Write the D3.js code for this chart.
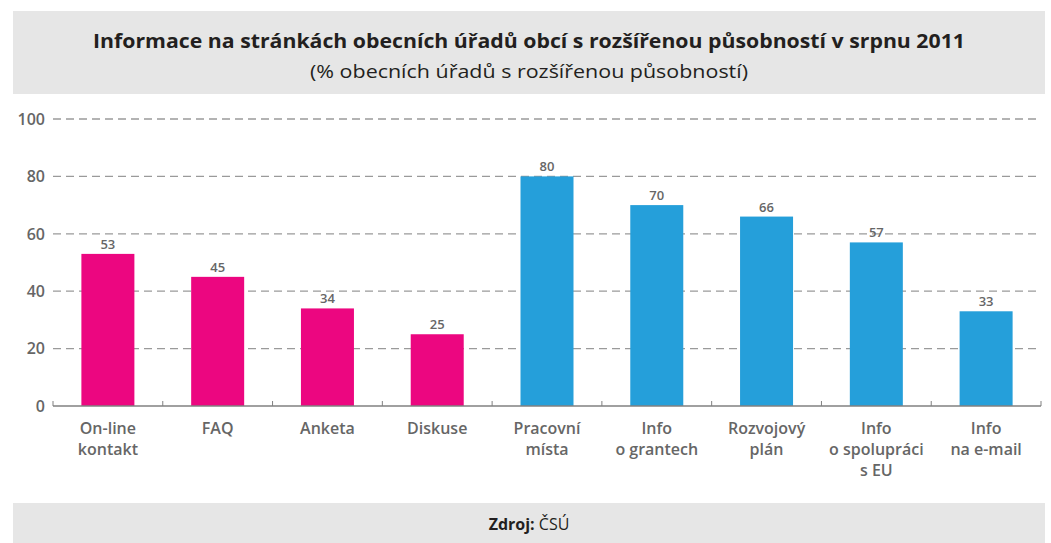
<!DOCTYPE html>
<html>
<head>
    <meta charset="utf-8">
    <title>Informace na stránkách obecních úřadů</title>
    <script src="https://d3js.org/d3.v7.min.js"></script>
    <style>
        body { margin: 0; background: #fff; }
        svg text { font-family: "Open Sans", "Noto Sans", sans-serif; }
    </style>
</head>
<body>
    <svg width="1051" height="543"></svg>
    <script>
        // data
        var categories = [
            ["On-line", "kontakt"], ["FAQ"], ["Anketa"], ["Diskuse"],
            ["Pracovní", "místa"], ["Info", "o grantech"], ["Rozvojový", "plán"],
            ["Info", "o spolupráci", "s EU"], ["Info", "na e-mail"]
        ];
        var values = [53, 45, 34, 25, 80, 70, 66, 57, 33];
        var groups = ["a", "a", "a", "a", "b", "b", "b", "b", "b"];
        var yTicks = [0, 20, 40, 60, 80, 100];

        var colors = { a: "#ec0680", b: "#259fda" };

        var svg = d3.select("svg");
        var plotLeft = 53, plotRight = 1041, plotTop = 119, plotBottom = 406;

        // title box
        svg.append("rect").attr("x", 13).attr("y", 11).attr("width", 1032).attr("height", 83).attr("fill", "#e6e6e6");
        svg.append("text").attr("x", 529).attr("y", 48).attr("text-anchor", "middle")
            .attr("font-size", 20).attr("font-weight", "bold").attr("fill", "#231f20")
            .attr("textLength", 872).attr("lengthAdjust", "spacingAndGlyphs")
            .text("Informace na stránkách obecních úřadů obcí s rozšířenou působností v srpnu 2011");
        svg.append("text").attr("x", 529).attr("y", 78).attr("text-anchor", "middle")
            .attr("font-size", 19).attr("fill", "#231f20")
            .attr("textLength", 438).attr("lengthAdjust", "spacingAndGlyphs")
            .text("(% obecních úřadů s rozšířenou působností)");

        // footer box
        svg.append("rect").attr("x", 13).attr("y", 503).attr("width", 1032).attr("height", 40).attr("fill", "#e6e6e6");
        var foot = svg.append("text").attr("x", 529).attr("y", 530).attr("text-anchor", "middle")
            .attr("font-size", 16).attr("fill", "#231f20");
        foot.append("tspan").attr("font-weight", "bold").text("Zdroj: ");
        foot.append("tspan").text("ČSÚ");

        var x = d3.scaleBand().domain(d3.range(values.length)).range([plotLeft, plotRight]);
        var y = d3.scaleLinear().domain([0, 100]).range([plotBottom, plotTop]);

        // gridlines
        svg.append("g").selectAll("line").data(yTicks.filter(function(d) { return d > 0; })).enter()
            .append("line")
            .attr("x1", plotLeft).attr("x2", plotRight)
            .attr("y1", function(d) { return y(d); }).attr("y2", function(d) { return y(d); })
            .attr("stroke", "#9a9a9a").attr("stroke-width", 1.3).attr("stroke-dasharray", "8,5");

        // y labels
        svg.append("g").selectAll("text").data(yTicks).enter()
            .append("text")
            .attr("x", 45).attr("y", function(d) { return y(d); }).attr("dy", "0.36em")
            .attr("text-anchor", "end").attr("font-size", 16).attr("font-weight", 600).attr("fill", "#666")
            .text(function(d) { return d; });

        var bw = 53;
        // bars
        svg.append("g").selectAll("rect").data(values).enter()
            .append("rect")
            .attr("x", function(d, i) { return x(i) + x.bandwidth() / 2 - bw / 2; })
            .attr("y", function(d) { return y(d); })
            .attr("width", bw)
            .attr("height", function(d) { return y(0) - y(d); })
            .attr("fill", function(d, i) { return colors[groups[i]]; });

        // value labels
        svg.append("g").selectAll("text").data(values).enter()
            .append("text")
            .attr("x", function(d, i) { return x(i) + x.bandwidth() / 2; })
            .attr("y", function(d) { return y(d) - 5; })
            .attr("text-anchor", "middle").attr("font-size", 13).attr("font-weight", 600).attr("fill", "#666")
            .text(function(d) { return d; });

        // x axis
        var axis = svg.append("g").attr("transform", "translate(0," + plotBottom + ")");
        axis.append("line").attr("x1", plotLeft).attr("x2", plotRight).attr("stroke", "#808080").attr("stroke-width", 1.3);
        axis.selectAll("line.tick").data(d3.range(values.length + 1)).enter()
            .append("line").attr("class", "tick")
            .attr("x1", function(i) { return plotLeft + i * x.bandwidth(); })
            .attr("x2", function(i) { return plotLeft + i * x.bandwidth(); })
            .attr("y1", -5).attr("y2", 0)
            .attr("stroke", "#808080").attr("stroke-width", 1);

        var labels = axis.selectAll("text.cat").data(categories).enter()
            .append("text").attr("class", "cat")
            .attr("text-anchor", "middle").attr("font-size", 16).attr("font-weight", 600).attr("fill", "#666");
        labels.each(function(lines, i) {
            var t = d3.select(this);
            lines.forEach(function(l, k) {
                t.append("tspan").attr("x", x(i) + x.bandwidth() / 2).attr("y", 28 + k * 21).text(l);
            });
        });
    </script>
</body>
</html>
